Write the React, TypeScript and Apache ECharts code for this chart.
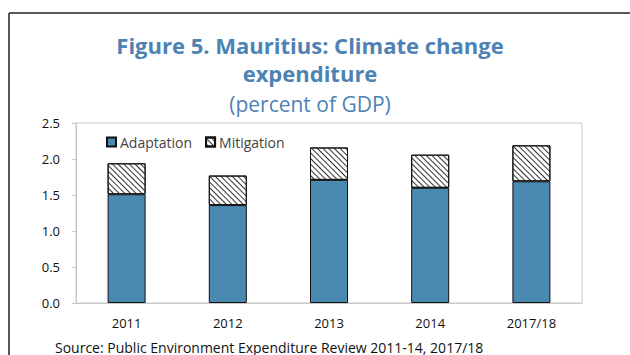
import React, { useEffect, useRef } from "react";
import * as echarts from "echarts";

const categories = ["2011", "2012", "2013", "2014", "2017/18"];
const adaptation = [1.51, 1.36, 1.71, 1.6, 1.69];
const mitigation = [0.43, 0.41, 0.45, 0.46, 0.5];
const yTicks = [0, 0.5, 1, 1.5, 2, 2.5];

const BLUE = "#4a89b0";
const TITLE = "#4d82b4";
const FONT = "'Open Sans', 'Noto Sans', sans-serif";

const hatch = {
  symbol: "rect",
  symbolSize: 1,
  color: "#333",
  backgroundColor: "#ffffff",
  dashArrayX: [1, 0],
  dashArrayY: [1, 2.4],
  rotation: Math.PI / 4,
};

export default function App() {
  const ref = useRef<HTMLDivElement>(null);
  useEffect(() => {
    document.body.style.margin = "0";
    const chart = echarts.init(ref.current!, null, { renderer: "svg" });
    chart.setOption({
      animation: false,
      backgroundColor: "#ffffff",
      title: [
        {
          text: "Figure 5. Mauritius: Climate change\nexpenditure",
          left: 305,
          top: 26,
          textAlign: "center",
          textStyle: {
            fontFamily: FONT,
            fontSize: 22,
            fontWeight: "bold",
            color: TITLE,
            lineHeight: 28,
          },
        },
        {
          text: "(percent of GDP)",
          left: 305,
          top: 87,
          textAlign: "center",
          textStyle: {
            fontFamily: FONT,
            fontSize: 21,
            fontWeight: "normal",
            color: TITLE,
            lineHeight: 24,
          },
        },
      ],
      legend: {
        left: 101,
        top: 130,
        itemWidth: 9,
        itemHeight: 9,
        itemGap: 13,
        icon: "rect",
        textStyle: { fontFamily: FONT, fontSize: 14, color: "#444", padding: [0, 0, 0, -1] },
        data: ["Adaptation", "Mitigation"],
      },
      grid: { left: 76, right: 48, top: 123, bottom: 52, show: true, borderColor: "#c8c8c8", borderWidth: 1 },
      xAxis: {
        type: "category",
        data: categories,
        axisLine: { lineStyle: { color: "#c8c8c8" } },
        axisTick: { show: false },
        axisLabel: { fontFamily: FONT, fontSize: 13, color: "#111", margin: 13 },
      },
      yAxis: {
        type: "value",
        min: 0,
        max: 2.5,
        interval: 0.5,
        splitLine: { show: false },
        axisLine: { show: true, lineStyle: { color: "#c8c8c8" } },
        axisTick: { show: true, inside: false, length: 4, lineStyle: { color: "#c8c8c8" } },
        axisLabel: {
          fontFamily: FONT,
          fontSize: 13,
          color: "#111",
          margin: 16,
          formatter: (v: number) => (yTicks.includes(v) ? v.toFixed(1) : ""),
        },
      },
      series: [
        {
          name: "Adaptation",
          type: "bar",
          stack: "total",
          data: adaptation,
          barWidth: 38,
          itemStyle: { color: BLUE, borderColor: "#111", borderWidth: 1 },
        },
        {
          name: "Mitigation",
          type: "bar",
          stack: "total",
          data: mitigation,
          barWidth: 38,
          itemStyle: { color: "#ffffff", borderColor: "#111", borderWidth: 1, decal: hatch },
        },
      ],
      graphic: [
        { type: "line", shape: { x1: 9, y1: 13, x2: 630, y2: 13 }, style: { stroke: "#222", lineWidth: 1.5 } },
        { type: "line", shape: { x1: 9, y1: 13, x2: 9, y2: 355 }, style: { stroke: "#222", lineWidth: 1.5 } },
        {
          type: "text",
          x: 55,
          y: 347,
          style: {
            text: "Source: Public Environment Expenditure Review 2011-14, 2017/18",
            fontFamily: FONT,
            fontSize: 14,
            fill: "#111",
            verticalAlign: "middle",
          },
        },
      ],
    });
    return () => chart.dispose();
  }, []);
  return <div ref={ref} style={{ width: 630, height: 355 }} />;
}
